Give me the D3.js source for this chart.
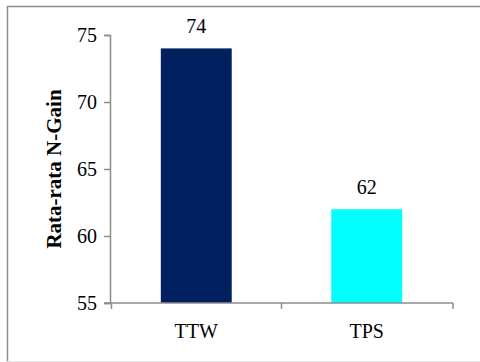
<!DOCTYPE html>
<html>
<head>
<meta charset="utf-8">
<script src="https://cdn.jsdelivr.net/npm/d3@7"></script>
<style>
  html, body { margin: 0; padding: 0; background: #fff; }
  svg { display: block; }
</style>
</head>
<body>
<svg id="chart" width="480" height="362"></svg>
<script>
// Mean N-Gain per class
const categories = ["TTW", "TPS"];
const values = [74, 62];
const barColors = ["#002060", "#00FFFF"];
const yTicks = [55, 60, 65, 70, 75];

const svg = d3.select("#chart");
const font = "'Liberation Serif', 'Times New Roman', serif";

// chart frame
svg.append("path")
  .attr("d", "M7.5,362 V6.5 H480")
  .attr("fill", "none")
  .attr("stroke", "#8c8c8c")
  .attr("stroke-width", 1.5);
svg.append("line")
  .attr("x1", 7).attr("x2", 480).attr("y1", 361.5).attr("y2", 361.5)
  .attr("stroke", "#e6e6e6");

const plot = { left: 110, right: 453, top: 35, bottom: 303 };

const x = d3.scaleBand()
  .domain(categories)
  .range([plot.left, plot.right])
  .paddingInner(0.584)
  .paddingOuter(0.298);
const y = d3.scaleLinear().domain([55, 75]).range([plot.bottom, plot.top]);

// bars
svg.append("g").selectAll("rect")
  .data(categories)
  .join("rect")
  .attr("x", d => x(d))
  .attr("width", x.bandwidth())
  .attr("y", (d, i) => y(values[i]))
  .attr("height", (d, i) => y(55) - y(values[i]))
  .attr("fill", (d, i) => barColors[i]);

// value labels
svg.append("g").selectAll("text")
  .data(categories)
  .join("text")
  .attr("x", d => x(d) + x.bandwidth() / 2)
  .attr("y", (d, i) => y(values[i]) - 15)
  .attr("text-anchor", "middle")
  .attr("font-family", font)
  .attr("font-size", 20)
  .attr("fill", "#000")
  .text((d, i) => values[i]);

// y axis
const yAxis = svg.append("g")
  .attr("transform", `translate(${plot.left},0)`)
  .call(d3.axisLeft(y).tickValues(yTicks).tickSize(6).tickPadding(7));
yAxis.select(".domain").attr("stroke", "#8c8c8c").attr("stroke-width", 1.5);
yAxis.selectAll(".tick line").attr("stroke", "#8c8c8c").attr("stroke-width", 1.5);
yAxis.selectAll(".tick text")
  .attr("font-family", font).attr("font-size", 20).attr("fill", "#000");

// x axis with category boundary ticks
const xAxis = svg.append("g")
  .attr("transform", `translate(0,${plot.bottom})`);
xAxis.append("line")
  .attr("x1", plot.left - 6).attr("x2", plot.right)
  .attr("stroke", "#8c8c8c").attr("stroke-width", 1.5);
const step = x.step();
const bounds = [plot.left + 1.5].concat(categories.map(d => x(d) + x.bandwidth() / 2 + step / 2));
bounds[bounds.length - 1] = plot.right;
xAxis.selectAll("line.tick")
  .data(bounds)
  .join("line")
  .attr("class", "tick")
  .attr("x1", d => d).attr("x2", d => d)
  .attr("y1", 0).attr("y2", 6)
  .attr("stroke", "#8c8c8c").attr("stroke-width", 1.5);
xAxis.selectAll("text")
  .data(categories)
  .join("text")
  .attr("x", d => x(d) + x.bandwidth() / 2)
  .attr("y", 35)
  .attr("text-anchor", "middle")
  .attr("font-family", font)
  .attr("font-size", 20)
  .attr("fill", "#000")
  .text(d => d);

// y axis title
svg.append("text")
  .attr("transform", `translate(61,${(plot.top + plot.bottom) / 2}) rotate(-90)`)
  .attr("text-anchor", "middle")
  .attr("font-family", font)
  .attr("font-weight", "bold")
  .attr("font-size", 21)
  .attr("fill", "#000")
  .text("Rata-rata N-Gain");
</script>
</body>
</html>
